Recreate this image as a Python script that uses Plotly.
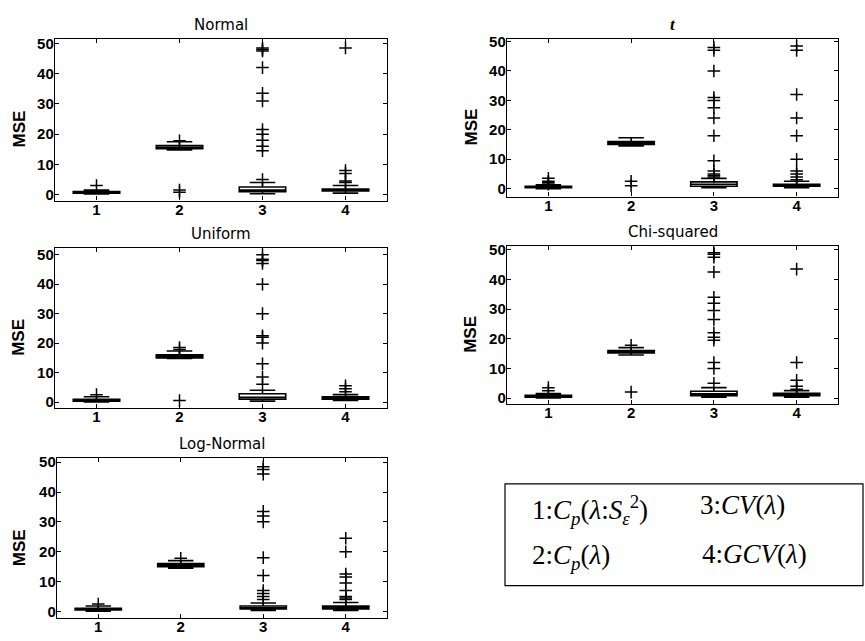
import plotly.graph_objects as go

W, H = 865, 641
methods = [1, 2, 3, 4]

# ---- data (per distribution): box stats and outliers per method ----
normal_q1 = [0.5, 15.2, 1.0, 1.2]
normal_med = [0.8, 15.6, 1.5, 1.5]
normal_q3 = [1.0, 16.2, 2.5, 1.8]
normal_lo = [0.2, 14.8, 0.3, 0.5]
normal_hi = [1.5, 17.5, 4.0, 3.0]
normal_out = [[3.0], [17.8, 0.8, 1.5], [5.0, 14.5, 16.0, 18.0, 20.0, 21.5, 31.0, 33.5, 42.0, 47.5, 48.0, 48.5],
              [4.0, 4.5, 7.0, 8.0, 48.5]]

t_q1 = [0.3, 15.0, 0.8, 0.8]
t_med = [0.6, 15.5, 1.5, 1.1]
t_q3 = [0.8, 16.0, 2.3, 1.5]
t_lo = [0.0, 14.5, 0.3, 0.3]
t_hi = [1.3, 17.3, 3.5, 2.5]
t_out = [[1.5, 2.0, 2.5, 3.5], [1.0, 2.5], [4.0, 4.5, 5.0, 6.0, 9.5, 18.0, 24.0, 27.5, 30.0, 31.0, 40.0, 47.0, 48.0],
         [3.0, 4.0, 5.0, 6.0, 10.0, 18.0, 24.0, 32.0, 47.0, 48.5]]

uniform_q1 = [0.3, 15.0, 1.0, 1.0]
uniform_med = [0.6, 15.5, 1.6, 1.4]
uniform_q3 = [0.9, 16.0, 2.8, 1.8]
uniform_lo = [0.0, 14.8, 0.3, 0.5]
uniform_hi = [1.8, 17.3, 4.0, 2.5]
uniform_out = [[2.5], [17.8, 18.5, 0.5], [6.0, 8.5, 13.0, 20.0, 22.0, 22.5, 30.0, 40.0, 47.0, 48.0, 48.5, 50.0],
               [3.5, 4.5, 5.5]]

chisq_q1 = [0.3, 15.2, 0.8, 0.8]
chisq_med = [0.6, 15.6, 1.4, 1.2]
chisq_q3 = [0.9, 16.0, 2.3, 1.6]
chisq_lo = [0.0, 14.5, 0.3, 0.3]
chisq_hi = [1.5, 17.0, 3.5, 2.5]
chisq_out = [[2.5, 3.5], [17.8, 2.0], [5.0, 10.0, 12.0, 19.5, 20.5, 22.0, 26.5, 29.5, 32.0, 34.0, 42.5, 47.5, 48.5, 49.0],
             [3.0, 4.0, 6.0, 12.0, 43.5]]

lognormal_q1 = [0.5, 15.0, 0.8, 0.8]
lognormal_med = [0.8, 15.5, 1.2, 1.3]
lognormal_q3 = [1.0, 16.0, 1.8, 1.8]
lognormal_lo = [0.1, 14.5, 0.3, 0.3]
lognormal_hi = [1.8, 17.0, 2.8, 3.0]
lognormal_out = [[2.5], [17.8], [4.0, 5.0, 6.0, 7.0, 12.0, 18.0, 30.0, 32.0, 33.5, 46.0, 47.5, 48.5],
                 [4.0, 4.5, 5.0, 7.0, 9.5, 11.5, 12.5, 20.0, 24.5]]

y_ticks = [0, 10, 20, 30, 40, 50]

# ---- layout in pixels ----
panels = [
    dict(title="Normal", italic=False, x=(55, 387), y=(33, 197), yr=(-1.96, 51.6),
         q1=normal_q1, med=normal_med, q3=normal_q3, lo=normal_lo, hi=normal_hi, out=normal_out, lab=19),
    dict(title="t", italic=True, x=(507, 838), y=(33, 193), yr=(-2.7, 51.0),
         q1=t_q1, med=t_med, q3=t_q3, lo=t_lo, hi=t_hi, out=t_out, lab=471),
    dict(title="Uniform", italic=False, x=(55, 387), y=(245, 407), yr=(-2.0, 52.3),
         q1=uniform_q1, med=uniform_med, q3=uniform_q3, lo=uniform_lo, hi=uniform_hi, out=uniform_out, lab=19),
    dict(title="Chi-squared", italic=False, x=(507, 838), y=(243, 403), yr=(-2.0, 51.3),
         q1=chisq_q1, med=chisq_med, q3=chisq_q3, lo=chisq_lo, hi=chisq_hi, out=chisq_out, lab=471),
    dict(title="Log-Normal", italic=False, x=(57, 387), y=(458, 620), yr=(-2.3, 51.3),
         q1=lognormal_q1, med=lognormal_med, q3=lognormal_q3, lo=lognormal_lo, hi=lognormal_hi, out=lognormal_out, lab=19),
]

def px(x):
    return x / W

def py(y):
    return 1 - y / H

fig = go.Figure()
annotations = []
shapes = []
tickfont = dict(family="Liberation Sans, Arial", size=15, color="black", weight="bold")

for i, p in enumerate(panels):
    n = "" if i == 0 else str(i + 1)
    xa, ya = "x" + n, "y" + n
    fig.add_trace(go.Box(
        x=methods, q1=p["q1"], median=p["med"], q3=p["q3"],
        lowerfence=p["lo"], upperfence=p["hi"],
        xaxis=xa, yaxis=ya, width=0.56, whiskerwidth=0.55,
        fillcolor="white", line=dict(color="black", width=1.6),
        boxpoints=False, showlegend=False, hoverinfo="skip",
    ))
    ox, oy = [], []
    for m, vals in zip(methods, p["out"]):
        for v in vals:
            ox.append(m)
            oy.append(v)
    fig.add_trace(go.Scatter(
        x=ox, y=oy, mode="markers", xaxis=xa, yaxis=ya, showlegend=False,
        marker=dict(symbol="cross-thin", size=9, line=dict(color="black", width=1.5)),
    ))
    axcommon = dict(showline=True, linecolor="black", linewidth=1.4, mirror="ticks",
                    ticks="inside", ticklen=4, tickcolor="black", showgrid=False,
                    zeroline=False, tickfont=tickfont)
    fig.update_layout(**{
        ("xaxis" + n): dict(domain=[px(p["x"][0]), px(p["x"][1])], range=[0.5, 4.5],
                            tickvals=methods, ticktext=[str(m) for m in methods],
                            anchor=ya, ticklabelstandoff=-5, **axcommon),
        ("yaxis" + n): dict(domain=[py(p["y"][1]), py(p["y"][0])], range=list(p["yr"]),
                            tickvals=y_ticks, anchor=xa, ticklabelstandoff=-3, **axcommon),
    })
    cx = (p["x"][0] + p["x"][1]) / 2
    if p["italic"]:
        title_text = "<b><i>t</i></b>"
        tfont = dict(family="Liberation Serif", size=17, color="black")
    else:
        title_text = p["title"]
        tfont = dict(family="DejaVu Sans", size=15, color="black")
    annotations.append(dict(
        x=px(cx), y=py(p["y"][0] - 3), xref="paper", yref="paper", text=title_text,
        showarrow=False, xanchor="center", yanchor="bottom", font=tfont,
    ))
    annotations.append(dict(
        x=px(p["lab"]), y=py((p["y"][0] + p["y"][1]) / 2 + 10), xref="paper", yref="paper",
        text="<b>MSE</b>", textangle=-90, showarrow=False, xanchor="center", yanchor="middle",
        font=dict(family="Liberation Sans, Arial", size=17, color="black"),
    ))

# legend box
shapes.append(dict(type="rect", xref="paper", yref="paper",
                   x0=px(505), x1=px(863), y0=py(587), y1=py(484),
                   line=dict(color="black", width=1.2), fillcolor="white"))
legend_font = dict(family="Liberation Serif, Times New Roman", size=27, color="black")
legend_items = [
    ("1:<i>C</i><sub><i>p</i></sub>(<i>λ</i>:<i>S</i><sub><i>ε</i></sub><sup>2</sup>)", 530, 510),
    ("3:<i>CV</i>(<i>λ</i>)", 698, 505),
    ("2:<i>C</i><sub><i>p</i></sub>(<i>λ</i>)", 530, 558),
    ("4:<i>GCV</i>(<i>λ</i>)", 700, 555),
]
for txt, lx, ly in legend_items:
    annotations.append(dict(x=px(lx), y=py(ly), xref="paper", yref="paper", text=txt,
                            showarrow=False, xanchor="left", yanchor="middle", font=legend_font))

fig.update_layout(width=W, height=H, margin=dict(l=0, r=0, t=0, b=0),
                  paper_bgcolor="white", plot_bgcolor="white",
                  annotations=annotations, shapes=shapes, showlegend=False)

fig.write_html("out.html")
